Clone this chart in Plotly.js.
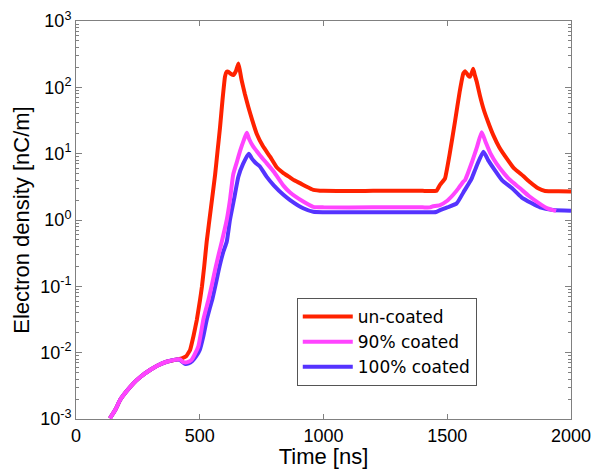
<!DOCTYPE html>
<html>
<head>
<meta charset="utf-8">
<script src="https://cdn.plot.ly/plotly-3.0.1.min.js"></script>
<style>html,body{margin:0;padding:0;background:#fff;}#chart{width:594px;height:469px;}</style>
</head>
<body>
<div id="chart"></div>
<script>
// Shared build-up section (all three curves coincide)
var commonX = [137,160,178,200,232,260,299,330,366,407];
var commonY = [0.00102,0.0014,0.00193,0.0025,0.00345,0.0043,0.00547,0.0064,0.0073,0.0079];

// un-coated
var redX = [430,445,461,475,488,501,509,518,528,545,562,572,582,592,602,608,615,625,636,646,656,662,669,682,696,712,730,755,784,810,838,860,880,905,930,959,1000,1200,1400,1457,1471,1491,1510,1531,1550,1565,1572,1585,1592,1600,1605,1612,1619,1632,1646,1665,1686,1710,1740,1770,1807,1835,1867,1895,1950,2000];
var redY = [0.0083,0.0088,0.011,0.018,0.031,0.062,0.1,0.2,0.47,1.5,4.8,11,25,65,145,170,172,160,153,175,229,180,129,80,51,32,20,13,9,6.3,5.1,4.5,4.0,3.6,3.2,2.85,2.75,2.75,2.75,2.77,3.4,4.25,10,30,85,162,175,150,145,170,190,150,122,75,48,30,19,12.5,8.5,6,4.6,3.7,3.0,2.74,2.71,2.7];

// 90% coated
var magX = [420,434,450,467,480,494,504,514,525,535,550,565,577,589,609,622,635,650,663,678,690,700,715,743,770,800,838,865,918,959,1000,1200,1400,1430,1440,1471,1500,1524,1545,1565,1572,1600,1620,1639,1655,1675,1700,1730,1754,1794,1830,1870,1905,1940];
var magY = [0.0079,0.0072,0.0072,0.0078,0.0095,0.0123,0.019,0.031,0.045,0.062,0.11,0.2,0.31,0.47,1.0,2.0,4.8,7.5,11,16,20.7,16.5,13,9.5,7.2,5.3,3.3,2.6,1.9,1.58,1.55,1.55,1.55,1.55,1.6,1.68,1.95,2.4,3.0,3.8,4.0,7.5,12.5,21,15,10,7,5,4.0,3.0,2.3,1.8,1.5,1.37];

// 100% coated
var bluX = [420,440,455,470,485,500,515,528,540,550,565,580,595,609,622,640,656,675,698,710,725,743,770,800,838,865,918,959,1000,1200,1400,1455,1471,1500,1538,1565,1592,1599,1620,1646,1665,1690,1721,1762,1800,1840,1875,1927,2000];
var bluY = [0.0078,0.0068,0.0069,0.0075,0.0088,0.011,0.018,0.031,0.046,0.062,0.11,0.2,0.33,0.47,1.0,2.2,4.5,7,10,8.5,7.3,6.4,4.5,3.3,2.4,2.0,1.5,1.33,1.31,1.31,1.31,1.32,1.41,1.55,1.78,2.6,3.8,4.25,6.7,10.7,8,5.8,4.0,3.0,2.2,1.8,1.55,1.41,1.38];

var xTicks = [0,500,1000,1500,2000];
var yExps = [-3,-2,-1,0,1,2,3];
var yTickVals = yExps.map(function(e){ return Math.pow(10, e); });
var yTickText = yExps.map(function(e){ return '10<sup>' + e + '</sup>'; });
var yMinorVals = [];
yExps.slice(0, -1).forEach(function(e){ for (var m = 2; m <= 9; m++) yMinorVals.push(m * Math.pow(10, e)); });
var names = ['un-coated','90% coated','100% coated'];

var font = 'Liberation Sans, Arial, sans-serif';
var traces = [
  {x: commonX.concat(redX), y: commonY.concat(redY), name: names[0], legendrank: 1,
   mode: 'lines', line: {color: '#ff2200', width: 4, shape: 'spline', smoothing: 0.3}},
  {x: commonX.concat(bluX), y: commonY.concat(bluY), name: names[2], legendrank: 3,
   mode: 'lines', line: {color: '#5533ff', width: 4, shape: 'spline', smoothing: 0.5}},
  {x: commonX.concat(magX), y: commonY.concat(magY), name: names[1], legendrank: 2,
   mode: 'lines', line: {color: '#ff44ff', width: 4, shape: 'spline', smoothing: 0.5}}
];

var layout = {
  width: 594, height: 469,
  margin: {l: 76, r: 23, t: 21, b: 50},
  paper_bgcolor: '#fff', plot_bgcolor: '#fff',
  font: {family: font, color: '#000'},
  showlegend: true,
  legend: {x: 0.446, y: 0.304, xanchor: 'left', yanchor: 'top',
           bordercolor: '#555', borderwidth: 1, bgcolor: '#fff', itemwidth: 50,
           font: {size: 17, family: 'DejaVu Sans, sans-serif'}, tracegroupgap: 0},
  xaxis: {range: [0, 2000], tickvals: xTicks, ticktext: xTicks.map(String),
          ticks: 'inside', ticklen: 5, tickcolor: '#808080', mirror: 'ticks',
          showline: true, linecolor: '#808080', linewidth: 1, showgrid: false, zeroline: false,
          tickfont: {size: 18, family: font},
          title: {text: 'Time [ns]', font: {size: 22, family: font}, standoff: 9}},
  yaxis: {type: 'log', range: [-3, 3], tickmode: 'array', tickvals: yTickVals, ticktext: yTickText,
          ticks: 'inside', ticklen: 6, tickcolor: '#808080', mirror: 'ticks',
          minor: {tickmode: 'array', tickvals: yMinorVals, ticks: 'inside', ticklen: 3, tickcolor: '#808080'},
          showline: true, linecolor: '#808080', linewidth: 1, showgrid: false, zeroline: false,
          tickfont: {size: 18, family: font},
          title: {text: 'Electron density [nC/m]', font: {size: 22, family: font}, standoff: 4}}
};

Plotly.newPlot('chart', traces, layout, {displayModeBar: false, staticPlot: true});
</script>
</body>
</html>
